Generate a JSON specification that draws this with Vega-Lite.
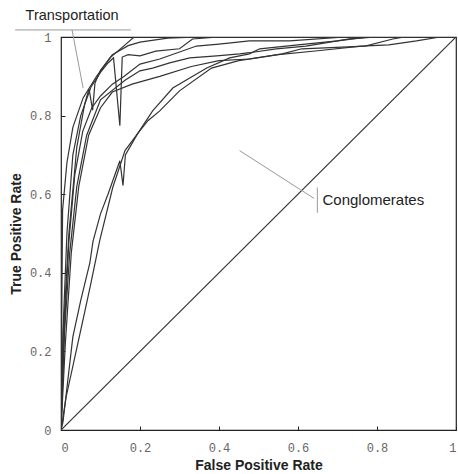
{
  "$schema": "https://vega.github.io/schema/vega-lite/v6.json",
  "width": 395,
  "height": 393,
  "autosize": {"type": "none"},
  "padding": {"left": 61, "top": 37, "right": 2, "bottom": 44},
  "background": "white",
  "config": {
    "view": {"stroke": "#222", "strokeWidth": 1.2},
    "axis": {
      "grid": false,
      "domain": false,
      "ticks": true,
      "tickSize": -4,
      "tickColor": "#222",
      "labelFont": "Liberation Mono",
      "labelFontSize": 12,
      "labelColor": "#666",
      "titleFont": "Liberation Sans",
      "titleFontSize": 14,
      "titleFontWeight": "bold",
      "titleColor": "#222"
    }
  },
  "datasets": {
    "curves": [
      {"s":"c1","i":0,"x":0,"y":0},{"s":"c1","i":1,"x":0.002,"y":0.3},{"s":"c1","i":2,"x":0.004,"y":0.56},{"s":"c1","i":3,"x":0.015,"y":0.68},{"s":"c1","i":4,"x":0.03,"y":0.77},{"s":"c1","i":5,"x":0.056,"y":0.845},{"s":"c1","i":6,"x":0.09,"y":0.9},{"s":"c1","i":7,"x":0.126,"y":0.949},{"s":"c1","i":8,"x":0.16,"y":0.978},{"s":"c1","i":9,"x":0.185,"y":1},{"s":"c1","i":10,"x":1,"y":1},

      {"s":"c2","i":0,"x":0,"y":0},{"s":"c2","i":1,"x":0.005,"y":0.25},{"s":"c2","i":2,"x":0.015,"y":0.5},{"s":"c2","i":3,"x":0.03,"y":0.7},{"s":"c2","i":4,"x":0.05,"y":0.8},{"s":"c2","i":5,"x":0.076,"y":0.873},{"s":"c2","i":6,"x":0.1,"y":0.91},{"s":"c2","i":7,"x":0.119,"y":0.934},{"s":"c2","i":8,"x":0.133,"y":0.947},{"s":"c2","i":9,"x":0.149,"y":0.774},{"s":"c2","i":10,"x":0.155,"y":0.949},{"s":"c2","i":11,"x":0.17,"y":0.955},{"s":"c2","i":12,"x":0.2,"y":0.952},{"s":"c2","i":13,"x":0.24,"y":0.964},{"s":"c2","i":14,"x":0.3,"y":0.97},{"s":"c2","i":15,"x":0.333,"y":0.995},{"s":"c2","i":16,"x":0.4,"y":1},{"s":"c2","i":17,"x":1,"y":1},

      {"s":"c3","i":0,"x":0,"y":0},{"s":"c3","i":1,"x":0.006,"y":0.25},{"s":"c3","i":2,"x":0.02,"y":0.5},{"s":"c3","i":3,"x":0.04,"y":0.72},{"s":"c3","i":4,"x":0.06,"y":0.83},{"s":"c3","i":5,"x":0.071,"y":0.868},{"s":"c3","i":6,"x":0.08,"y":0.814},{"s":"c3","i":7,"x":0.086,"y":0.883},{"s":"c3","i":8,"x":0.1,"y":0.915},{"s":"c3","i":9,"x":0.13,"y":0.955},{"s":"c3","i":10,"x":0.17,"y":0.978},{"s":"c3","i":11,"x":0.2,"y":0.987},{"s":"c3","i":12,"x":0.27,"y":0.997},{"s":"c3","i":13,"x":0.35,"y":1},{"s":"c3","i":14,"x":1,"y":1},

      {"s":"c4","i":0,"x":0,"y":0},{"s":"c4","i":1,"x":0.008,"y":0.25},{"s":"c4","i":2,"x":0.02,"y":0.48},{"s":"c4","i":3,"x":0.035,"y":0.65},{"s":"c4","i":4,"x":0.055,"y":0.76},{"s":"c4","i":5,"x":0.078,"y":0.82},{"s":"c4","i":6,"x":0.1,"y":0.85},{"s":"c4","i":7,"x":0.13,"y":0.88},{"s":"c4","i":8,"x":0.16,"y":0.9},{"s":"c4","i":9,"x":0.2,"y":0.931},{"s":"c4","i":10,"x":0.25,"y":0.944},{"s":"c4","i":11,"x":0.343,"y":0.977},{"s":"c4","i":12,"x":0.4,"y":0.982},{"s":"c4","i":13,"x":0.477,"y":0.99},{"s":"c4","i":14,"x":0.578,"y":0.99},{"s":"c4","i":15,"x":0.72,"y":1},{"s":"c4","i":16,"x":1,"y":1},

      {"s":"c5","i":0,"x":0,"y":0},{"s":"c5","i":1,"x":0.009,"y":0.25},{"s":"c5","i":2,"x":0.022,"y":0.45},{"s":"c5","i":3,"x":0.04,"y":0.62},{"s":"c5","i":4,"x":0.065,"y":0.75},{"s":"c5","i":5,"x":0.1,"y":0.84},{"s":"c5","i":6,"x":0.162,"y":0.89},{"s":"c5","i":7,"x":0.19,"y":0.908},{"s":"c5","i":8,"x":0.2,"y":0.914},{"s":"c5","i":9,"x":0.232,"y":0.921},{"s":"c5","i":10,"x":0.275,"y":0.934},{"s":"c5","i":11,"x":0.326,"y":0.947},{"s":"c5","i":12,"x":0.394,"y":0.952},{"s":"c5","i":13,"x":0.452,"y":0.957},{"s":"c5","i":14,"x":0.477,"y":0.96},{"s":"c5","i":15,"x":0.545,"y":0.97},{"s":"c5","i":16,"x":0.62,"y":0.977},{"s":"c5","i":17,"x":0.73,"y":0.995},{"s":"c5","i":18,"x":0.8,"y":1},{"s":"c5","i":19,"x":1,"y":1},

      {"s":"c6","i":0,"x":0,"y":0},{"s":"c6","i":1,"x":0.011,"y":0.22},{"s":"c6","i":2,"x":0.026,"y":0.45},{"s":"c6","i":3,"x":0.045,"y":0.62},{"s":"c6","i":4,"x":0.07,"y":0.75},{"s":"c6","i":5,"x":0.1,"y":0.82},{"s":"c6","i":6,"x":0.13,"y":0.86},{"s":"c6","i":7,"x":0.18,"y":0.88},{"s":"c6","i":8,"x":0.25,"y":0.9},{"s":"c6","i":9,"x":0.33,"y":0.925},{"s":"c6","i":10,"x":0.4,"y":0.94},{"s":"c6","i":11,"x":0.477,"y":0.944},{"s":"c6","i":12,"x":0.56,"y":0.957},{"s":"c6","i":13,"x":0.61,"y":0.97},{"s":"c6","i":14,"x":0.77,"y":0.977},{"s":"c6","i":15,"x":0.84,"y":0.995},{"s":"c6","i":16,"x":0.87,"y":1},{"s":"c6","i":17,"x":1,"y":1},

      {"s":"c7","i":0,"x":0,"y":0},{"s":"c7","i":1,"x":0.005,"y":0.02},{"s":"c7","i":2,"x":0.03,"y":0.237},{"s":"c7","i":3,"x":0.05,"y":0.33},{"s":"c7","i":4,"x":0.073,"y":0.425},{"s":"c7","i":5,"x":0.081,"y":0.48},{"s":"c7","i":6,"x":0.1,"y":0.55},{"s":"c7","i":7,"x":0.119,"y":0.6},{"s":"c7","i":8,"x":0.149,"y":0.685},{"s":"c7","i":9,"x":0.157,"y":0.622},{"s":"c7","i":10,"x":0.163,"y":0.7},{"s":"c7","i":11,"x":0.194,"y":0.754},{"s":"c7","i":12,"x":0.232,"y":0.812},{"s":"c7","i":13,"x":0.283,"y":0.87},{"s":"c7","i":14,"x":0.369,"y":0.921},{"s":"c7","i":15,"x":0.427,"y":0.947},{"s":"c7","i":16,"x":0.477,"y":0.957},{"s":"c7","i":17,"x":0.503,"y":0.97},{"s":"c7","i":18,"x":0.6,"y":0.98},{"s":"c7","i":19,"x":0.7,"y":0.99},{"s":"c7","i":20,"x":0.78,"y":1},{"s":"c7","i":21,"x":1,"y":1},

      {"s":"c8","i":0,"x":0,"y":0},{"s":"c8","i":1,"x":0.013,"y":0.084},{"s":"c8","i":2,"x":0.05,"y":0.254},{"s":"c8","i":3,"x":0.075,"y":0.37},{"s":"c8","i":4,"x":0.098,"y":0.482},{"s":"c8","i":5,"x":0.131,"y":0.617},{"s":"c8","i":6,"x":0.162,"y":0.711},{"s":"c8","i":7,"x":0.194,"y":0.754},{"s":"c8","i":8,"x":0.22,"y":0.787},{"s":"c8","i":9,"x":0.25,"y":0.812},{"s":"c8","i":10,"x":0.3,"y":0.863},{"s":"c8","i":11,"x":0.381,"y":0.921},{"s":"c8","i":12,"x":0.45,"y":0.94},{"s":"c8","i":13,"x":0.55,"y":0.955},{"s":"c8","i":14,"x":0.65,"y":0.965},{"s":"c8","i":15,"x":0.76,"y":0.977},{"s":"c8","i":16,"x":0.83,"y":0.98},{"s":"c8","i":17,"x":0.9,"y":0.99},{"s":"c8","i":18,"x":0.96,"y":1},{"s":"c8","i":19,"x":1,"y":1},

      {"s":"diag","i":0,"x":0,"y":0},{"s":"diag","i":1,"x":1,"y":1}
    ],
    "leaders": [
      {"s":"t1","i":0,"x":-0.116,"y":1.018},{"s":"t1","i":1,"x":0.177,"y":1.018},
      {"s":"t2","i":0,"x":0.028,"y":1.018},{"s":"t2","i":1,"x":0.056,"y":0.87},
      {"s":"g1","i":0,"x":0.452,"y":0.711},{"s":"g1","i":1,"x":0.641,"y":0.589},
      {"s":"g2","i":0,"x":0.649,"y":0.617},{"s":"g2","i":1,"x":0.649,"y":0.553}
    ],
    "labels": [
      {"text":"Transportation","x":0.028,"y":1.053,"side":"top"},
      {"text":"Conglomerates","x":0.662,"y":0.586,"side":"right"}
    ]
  },
  "layer": [
    {
      "data": {"name": "curves"},
      "mark": {"type": "line", "color": "#333", "strokeWidth": 1.2, "clip": true},
      "encoding": {
        "x": {"field": "x", "type": "quantitative", "scale": {"domain": [0, 1], "nice": false},
              "axis": {"values": [0, 0.2, 0.4, 0.6, 0.8, 1], "format": "~g", "labelPadding": 16, "title": "False Positive Rate", "titlePadding": 5}},
        "y": {"field": "y", "type": "quantitative", "scale": {"domain": [0, 1], "nice": false},
              "axis": {"values": [0, 0.2, 0.4, 0.6, 0.8, 1], "format": "~g", "labelPadding": 14, "title": "True Positive Rate", "titlePadding": 6}},
        "detail": {"field": "s"},
        "order": {"field": "i", "type": "quantitative"}
      }
    },
    {
      "data": {"name": "leaders"},
      "mark": {"type": "line", "color": "#999", "strokeWidth": 1, "clip": false},
      "encoding": {
        "x": {"field": "x", "type": "quantitative"},
        "y": {"field": "y", "type": "quantitative"},
        "detail": {"field": "s"},
        "order": {"field": "i", "type": "quantitative"}
      }
    },
    {
      "data": {"name": "labels"},
      "transform": [{"filter": "datum.side == 'top'"}],
      "mark": {"type": "text", "font": "Liberation Sans", "fontSize": 14.5, "color": "#222", "align": "center", "baseline": "middle", "clip": false},
      "encoding": {
        "x": {"field": "x", "type": "quantitative"},
        "y": {"field": "y", "type": "quantitative"},
        "text": {"field": "text"}
      }
    },
    {
      "data": {"name": "labels"},
      "transform": [{"filter": "datum.side == 'right'"}],
      "mark": {"type": "text", "font": "Liberation Sans", "fontSize": 15, "color": "#222", "align": "left", "baseline": "middle", "clip": false},
      "encoding": {
        "x": {"field": "x", "type": "quantitative"},
        "y": {"field": "y", "type": "quantitative"},
        "text": {"field": "text"}
      }
    }
  ]
}
